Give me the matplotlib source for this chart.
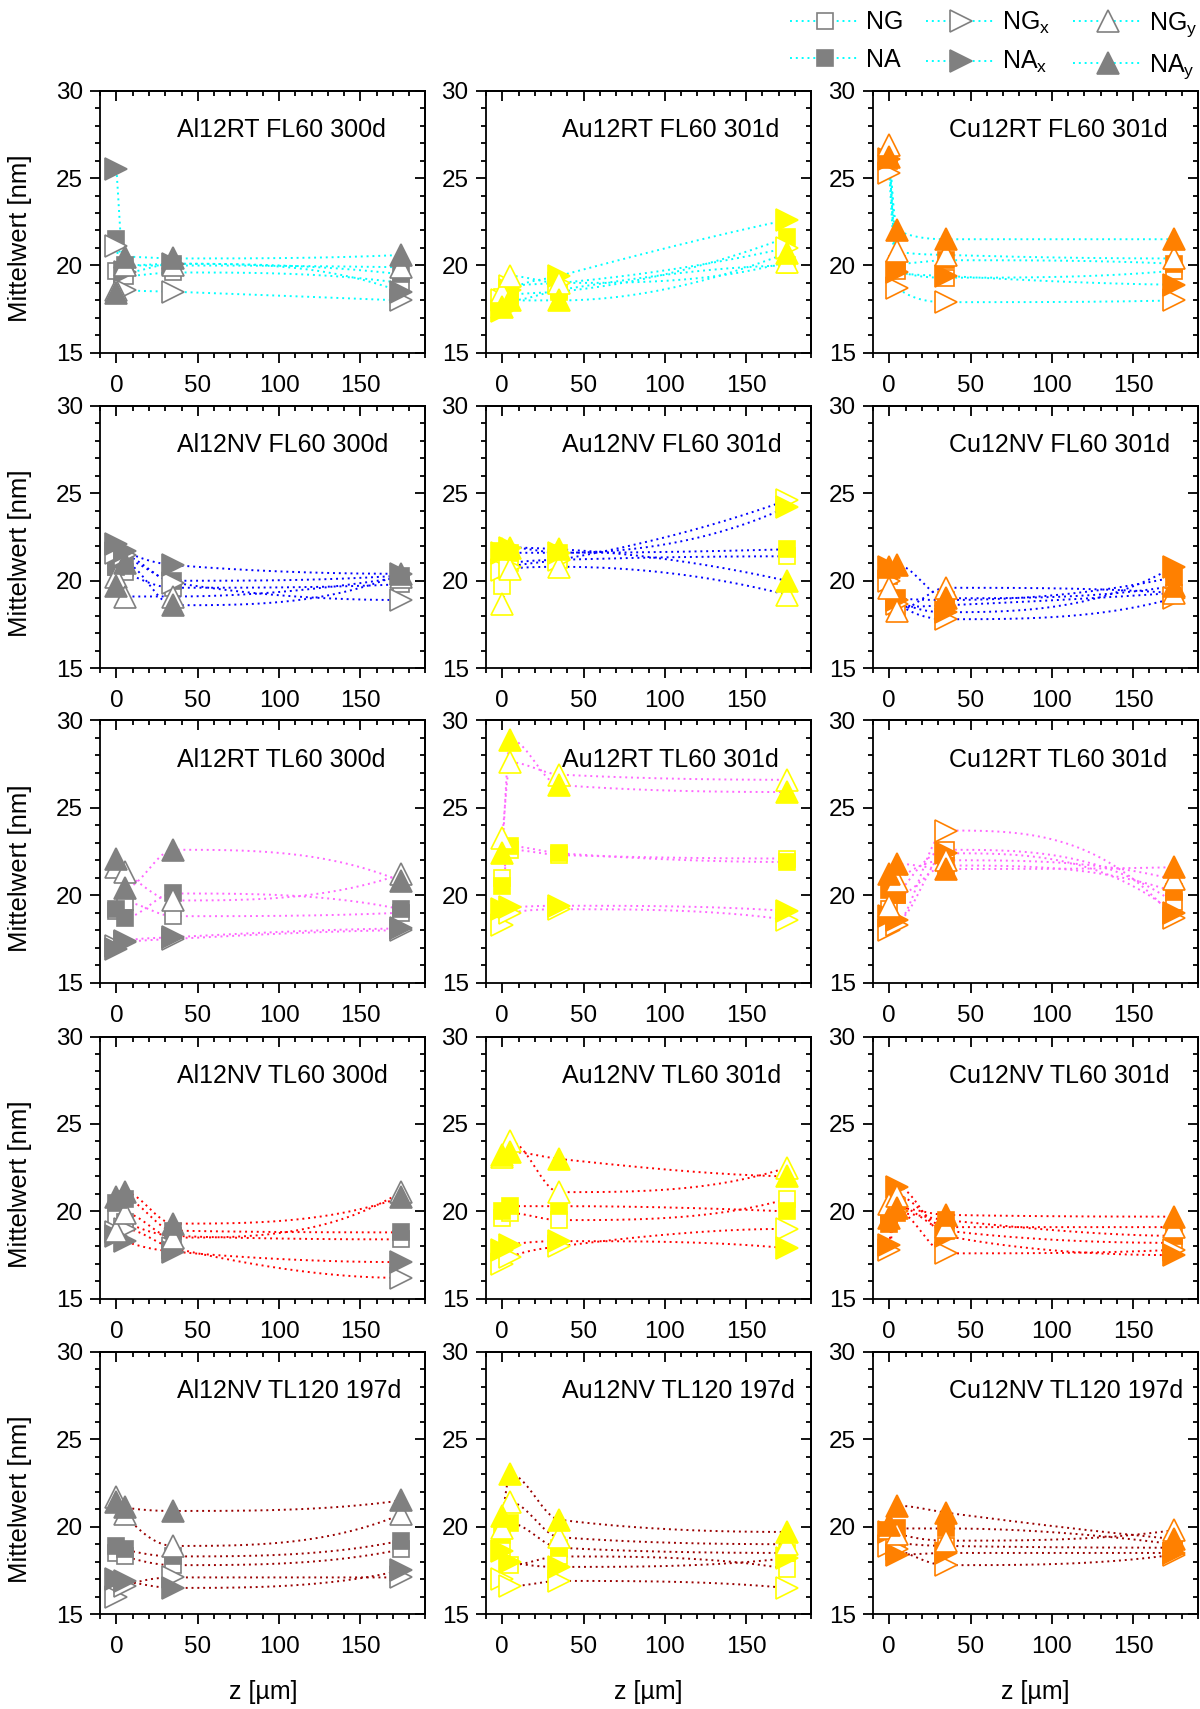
import numpy as np
import matplotlib
matplotlib.use('Agg')
import matplotlib.pyplot as plt
from matplotlib.lines import Line2D
from matplotlib.ticker import MultipleLocator

# depth positions [µm]
z = [0, 5, 35, 175]

titles = ['Al12RT FL60 300d', 'Au12RT FL60 301d', 'Cu12RT FL60 301d',
          'Al12NV FL60 300d', 'Au12NV FL60 301d', 'Cu12NV FL60 301d',
          'Al12RT TL60 300d', 'Au12RT TL60 301d', 'Cu12RT TL60 301d',
          'Al12NV TL60 300d', 'Au12NV TL60 301d', 'Cu12NV TL60 301d',
          'Al12NV TL120 197d', 'Au12NV TL120 197d', 'Cu12NV TL120 197d']

# one row of 4 values (z = 0, 5, 35, 175) per panel, panels row by row
ng = [[19.7, 19.4, 19.6, 19.0], [18.2, 18.0, 18.6, 20.0], [26.0, 19.7, 19.3, 19.7],
      [20.8, 20.5, 19.6, 19.8], [19.7, 21.0, 21.2, 21.4], [20.3, 18.5, 18.6, 19.3],
      [19.1, 19.6, 18.8, 19.0], [21.0, 22.6, 22.3, 22.1], [19.2, 20.0, 22.6, 19.6],
      [19.7, 19.4, 18.6, 18.4], [19.6, 19.9, 19.5, 20.7], [19.6, 20.3, 18.9, 18.2],
      [18.5, 18.3, 17.8, 18.7], [18.8, 17.8, 18.3, 17.6], [19.5, 19.1, 18.9, 18.8]]
na = [[21.5, 20.0, 20.1, 19.5], [17.8, 18.3, 18.5, 21.6], [26.1, 20.1, 20.3, 20.1],
      [20.8, 21.2, 20.0, 20.3], [21.7, 21.6, 21.6, 21.8], [20.5, 19.0, 18.9, 20.2],
      [19.2, 18.7, 20.1, 19.2], [20.5, 22.8, 22.4, 21.9], [20.3, 20.0, 21.7, 20.2],
      [20.5, 20.7, 18.9, 18.8], [20.0, 20.3, 20.3, 20.0], [19.3, 19.9, 19.5, 18.6],
      [18.9, 18.7, 18.3, 19.2], [19.5, 20.2, 18.8, 18.5], [19.8, 19.9, 19.9, 19.0]]
ngx = [[21.1, 18.6, 18.5, 18.0], [18.0, 18.8, 19.0, 21.0], [25.3, 18.7, 17.9, 18.0],
       [21.6, 21.5, 19.9, 18.9], [20.6, 20.8, 21.2, 24.6], [20.0, 18.7, 17.8, 19.0],
       [17.1, 17.3, 17.5, 18.0], [18.3, 19.0, 19.2, 18.6], [18.0, 18.3, 23.7, 18.7],
       [18.8, 19.0, 17.9, 16.2], [17.0, 17.4, 18.0, 19.0], [17.8, 20.0, 17.6, 17.8],
       [16.0, 16.6, 17.1, 17.1], [17.0, 16.6, 16.9, 16.5], [18.9, 18.7, 17.8, 18.4]]
nax = [[25.5, 19.6, 20.1, 18.5], [17.4, 18.6, 19.4, 22.6], [26.1, 19.6, 19.4, 18.9],
       [22.1, 21.7, 20.9, 20.4], [21.6, 21.9, 21.6, 24.2], [20.8, 18.9, 18.2, 20.8],
       [16.9, 17.4, 17.6, 18.1], [19.2, 19.3, 19.4, 19.1], [18.8, 18.6, 22.4, 19.0],
       [18.6, 18.3, 17.7, 17.1], [17.8, 18.1, 18.3, 17.9], [18.1, 21.4, 18.6, 17.5],
       [17.0, 16.9, 16.5, 17.5], [18.6, 18.0, 17.7, 18.2], [19.7, 18.4, 18.5, 18.5]]
ngy = [[18.6, 20.0, 20.0, 19.9], [18.5, 19.4, 19.0, 20.2], [26.9, 20.8, 20.6, 20.4],
       [20.2, 19.1, 19.1, 20.2], [18.7, 20.7, 20.8, 19.2], [19.6, 18.3, 19.6, 19.3],
       [21.6, 21.3, 19.7, 21.2], [23.3, 27.6, 26.9, 26.6], [19.4, 20.8, 22.0, 20.9],
       [18.9, 19.9, 18.5, 21.1], [23.1, 24.0, 21.1, 22.5], [20.4, 20.9, 19.1, 19.1],
       [21.7, 20.7, 18.9, 20.7], [19.9, 21.4, 19.4, 19.0], [19.9, 19.6, 19.2, 19.8]]
nay = [[18.4, 20.5, 20.4, 20.6], [17.6, 18.0, 18.0, 20.7], [26.2, 22.0, 21.5, 21.5],
       [19.7, 21.0, 18.6, 20.4], [21.8, 21.9, 21.8, 20.0], [20.8, 20.9, 19.0, 19.7],
       [22.1, 20.4, 22.6, 20.8], [22.4, 28.9, 26.3, 25.9], [21.2, 21.8, 21.5, 21.6],
       [20.8, 21.1, 19.3, 20.8], [23.2, 23.4, 23.0, 22.0], [19.6, 20.2, 19.8, 19.7],
       [21.4, 21.1, 20.9, 21.5], [20.6, 23.0, 20.4, 19.7], [20.1, 21.2, 20.8, 19.3]]

marker_colors = ['#808080', '#FFFF00', '#FF8000']
line_colors = ['#00FFFF', '#0000FF', '#FF66FF', '#FF0000', '#990000']

plt.rcParams['font.family'] = ['Liberation Sans', 'DejaVu Sans']
plt.rcParams['mathtext.fontset'] = 'custom'
plt.rcParams['mathtext.rm'] = 'Liberation Sans'
plt.rcParams['axes.linewidth'] = 1.3


def pchip(x, y, xs):
    # monotone cubic (Fritsch-Carlson) for the smoothed connecting line
    x = np.asarray(x, float)
    y = np.asarray(y, float)
    h = np.diff(x)
    d = np.diff(y) / h
    m = np.zeros_like(y)
    for k in range(1, len(x) - 1):
        if d[k - 1] * d[k] > 0:
            w1 = 2 * h[k] + h[k - 1]
            w2 = h[k] + 2 * h[k - 1]
            m[k] = (w1 + w2) / (w1 / d[k - 1] + w2 / d[k])

    def end(h0, h1, d0, d1):
        s = ((2 * h0 + h1) * d0 - h0 * d1) / (h0 + h1)
        if np.sign(s) != np.sign(d0):
            return 0.0
        if np.sign(d0) != np.sign(d1) and abs(s) > 3 * abs(d0):
            return 3 * d0
        return s
    m[0] = end(h[0], h[1], d[0], d[1])
    m[-1] = end(h[-1], h[-2], d[-1], d[-2])
    idx = np.clip(np.searchsorted(x, xs) - 1, 0, len(x) - 2)
    t = (xs - x[idx]) / h[idx]
    h00 = 2 * t**3 - 3 * t**2 + 1
    h10 = t**3 - 2 * t**2 + t
    h01 = -2 * t**3 + 3 * t**2
    h11 = t**3 - t**2
    return h00 * y[idx] + h10 * h[idx] * m[idx] + h01 * y[idx + 1] + h11 * h[idx] * m[idx + 1]


series = [('NG', ng, 's', False), ('NA', na, 's', True),
          ('NGx', ngx, '>', False), ('NAx', nax, '>', True),
          ('NGy', ngy, '^', False), ('NAy', nay, '^', True)]
msize = {'s': 12, '>': 16, '^': 16}

fig = plt.figure(figsize=(12, 17.09), dpi=100)
lefts = [0.0835, 0.405, 0.7275]
bottoms = [0.7935, 0.609, 0.425, 0.240, 0.0555]
w, h = 0.271, 0.1535
xs = np.linspace(0, 175, 400)

for p, title in enumerate(titles):
    r, c = divmod(p, 3)
    ax = fig.add_axes([lefts[c], bottoms[r], w, h])
    mc = marker_colors[c]
    lc = line_colors[r]
    for name, vals, mk, filled in series:
        ax.plot(xs, pchip(z, vals[p], xs), color=lc, lw=1.4, ls=(0, (1, 2)), zorder=2)
    for name, vals, mk, filled in series:
        ax.plot(z, vals[p], ls='none', marker=mk, ms=msize[mk], mec=mc,
                mfc=mc if filled else 'white', mew=1.2, zorder=3)

    ax.set_xlim(-10, 190)
    ax.set_ylim(15, 30)
    ax.set_xticks([0, 50, 100, 150])
    ax.set_yticks([15, 20, 25, 30])
    ax.xaxis.set_minor_locator(MultipleLocator(10))
    ax.yaxis.set_minor_locator(MultipleLocator(1))
    ax.tick_params(which='both', direction='out', width=1.3, labelsize=17.5)
    ax.tick_params(which='major', length=7)
    ax.tick_params(which='minor', length=3.5)
    ax.tick_params(axis='x', which='major', pad=9)
    ax.tick_params(axis='y', which='major', pad=5.5)

    top = ax.secondary_xaxis('top')
    top.set_xticks([0, 50, 100, 150])
    top.xaxis.set_minor_locator(MultipleLocator(10))
    top.tick_params(which='both', direction='in', labeltop=False, width=1.3)
    top.tick_params(which='major', length=7)
    top.tick_params(which='minor', length=3.5)
    right = ax.secondary_yaxis('right')
    right.set_yticks([15, 20, 25, 30])
    right.yaxis.set_minor_locator(MultipleLocator(1))
    right.tick_params(which='both', direction='in', labelright=False, width=1.3)
    right.tick_params(which='major', length=7)
    right.tick_params(which='minor', length=3.5)

    ax.text(0.235, 0.85, title, transform=ax.transAxes, ha='left', va='center', fontsize=18)
    if c == 0:
        ax.set_ylabel('Mittelwert [nm]', fontsize=18.5)
        ax.yaxis.set_label_coords(-0.21, 0.437)
    if r == 4:
        ax.set_xlabel('z [µm]', fontsize=18)
        ax.xaxis.set_label_coords(0.5, -0.25)

# legend
labels = {'NG': 'NG', 'NA': 'NA', 'NGx': r'NG$_\mathrm{x}$', 'NAx': r'NA$_\mathrm{x}$',
          'NGy': r'NG$_\mathrm{y}$', 'NAy': r'NA$_\mathrm{y}$'}
handles = []
for name, vals, mk, filled in series:
    handles.append(Line2D([], [], color=line_colors[0], lw=1.4, ls=(0, (1, 2)), marker=mk,
                          ms=msize[mk], mec=marker_colors[0],
                          mfc=marker_colors[0] if filled else 'white', mew=1.2))
fig.legend(handles, [labels[s[0]] for s in series], loc='upper right', bbox_to_anchor=(1.0, 0.996),
           ncol=3, frameon=False, fontsize=18, handlelength=2.8, columnspacing=0.9,
           labelspacing=0.55, handletextpad=0.25, borderaxespad=0.0, borderpad=0.1)

plt.savefig('out.png', dpi=100)
